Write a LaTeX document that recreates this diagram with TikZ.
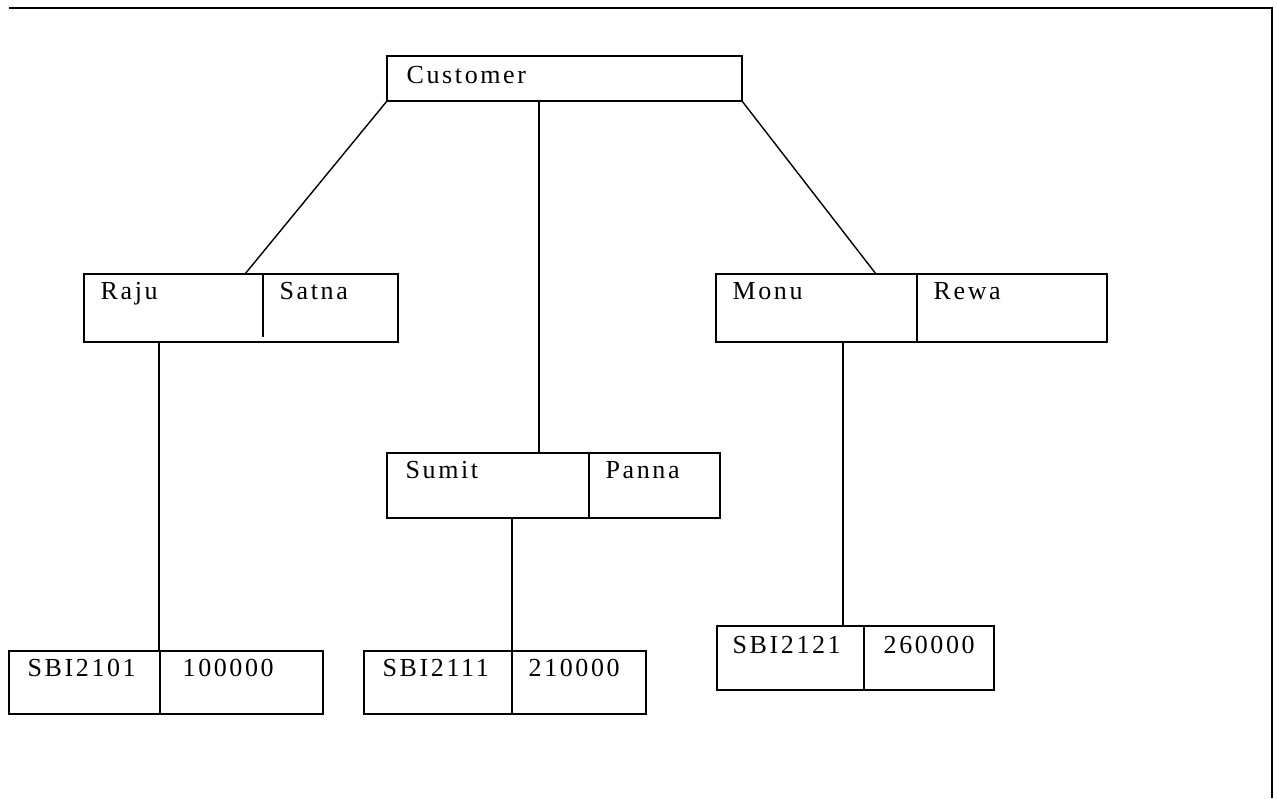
\documentclass[tikz,border=0pt]{standalone}
\usepackage{fontspec}
\setmainfont{Liberation Serif}
\begin{document}
\begin{tikzpicture}[x=1pt,y=-1pt,line width=1.4pt,
  record/.style={draw,rectangle,anchor=north west,inner sep=0pt,outer sep=0pt},
  field/.style={anchor=base west,inner sep=0pt,
    font=\fontsize{26}{28}\selectfont\addfontfeature{LetterSpace=10}}]
  \useasboundingbox (0,0) rectangle (1277,798);
  \draw (9,8) -- (1272,8) -- (1272,798);
  % records
  \node[record,minimum width=355pt,minimum height=45pt] (customer) at (387,56) {};
  \node[record,minimum width=314pt,minimum height=68pt] (raju) at (84,274) {};
  \node[record,minimum width=391pt,minimum height=68pt] (monu) at (716,274) {};
  \node[record,minimum width=333pt,minimum height=65pt] (sumit) at (387,453) {};
  \node[record,minimum width=314pt,minimum height=63pt] (acc1) at (9,651) {};
  \node[record,minimum width=282pt,minimum height=63pt] (acc2) at (364,651) {};
  \node[record,minimum width=277pt,minimum height=64pt] (acc3) at (717,626) {};
  % dividers
  \draw ([xshift=179pt]raju.north west) -- ([xshift=179pt,yshift=5pt]raju.south west);
  \draw ([xshift=201pt]monu.north west) -- ([xshift=201pt]monu.south west);
  \draw ([xshift=202pt]sumit.north west) -- ([xshift=202pt]sumit.south west);
  \draw ([xshift=151pt]acc1.north west) -- ([xshift=151pt]acc1.south west);
  \draw ([xshift=148pt]acc2.north west) -- ([xshift=148pt]acc2.south west);
  \draw ([xshift=147pt]acc3.north west) -- ([xshift=147pt]acc3.south west);
  % fields
  \node[field] (customerT) at ([shift={(19,27)}]customer.north west) {Customer};
  \node[field] (rajuT) at ([shift={(16,25)}]raju.north west) {Raju};
  \node[field] (satnaT) at ([shift={(195,25)}]raju.north west) {Satna};
  \node[field] (monuT) at ([shift={(16,25)}]monu.north west) {Monu};
  \node[field] (rewaT) at ([shift={(217,25)}]monu.north west) {Rewa};
  \node[field] (sumitT) at ([shift={(18,25)}]sumit.north west) {Sumit};
  \node[field] (pannaT) at ([shift={(218,25)}]sumit.north west) {Panna};
  \node[field] (acc1T) at ([shift={(18,25)}]acc1.north west) {SBI2101};
  \node[field] (bal1T) at ([shift={(173,25)}]acc1.north west) {100000};
  \node[field] (acc2T) at ([shift={(18,25)}]acc2.north west) {SBI2111};
  \node[field] (bal2T) at ([shift={(164,25)}]acc2.north west) {210000};
  \node[field] (acc3T) at ([shift={(15,27)}]acc3.north west) {SBI2121};
  \node[field] (bal3T) at ([shift={(166,27)}]acc3.north west) {260000};
  % links
  \draw (customer.south west) -- ([xshift=161pt]raju.north west);
  \draw ([xshift=152pt]customer.south west) -- ([xshift=152pt]sumit.north west);
  \draw (customer.south east) -- ([xshift=160pt]monu.north west);
  \draw ([xshift=75pt]raju.south west) -- ([xshift=150pt]acc1.north west);
  \draw ([xshift=125pt]sumit.south west) -- ([xshift=148pt]acc2.north west);
  \draw ([xshift=127pt]monu.south west) -- ([xshift=126pt]acc3.north west);
\end{tikzpicture}
\end{document}
